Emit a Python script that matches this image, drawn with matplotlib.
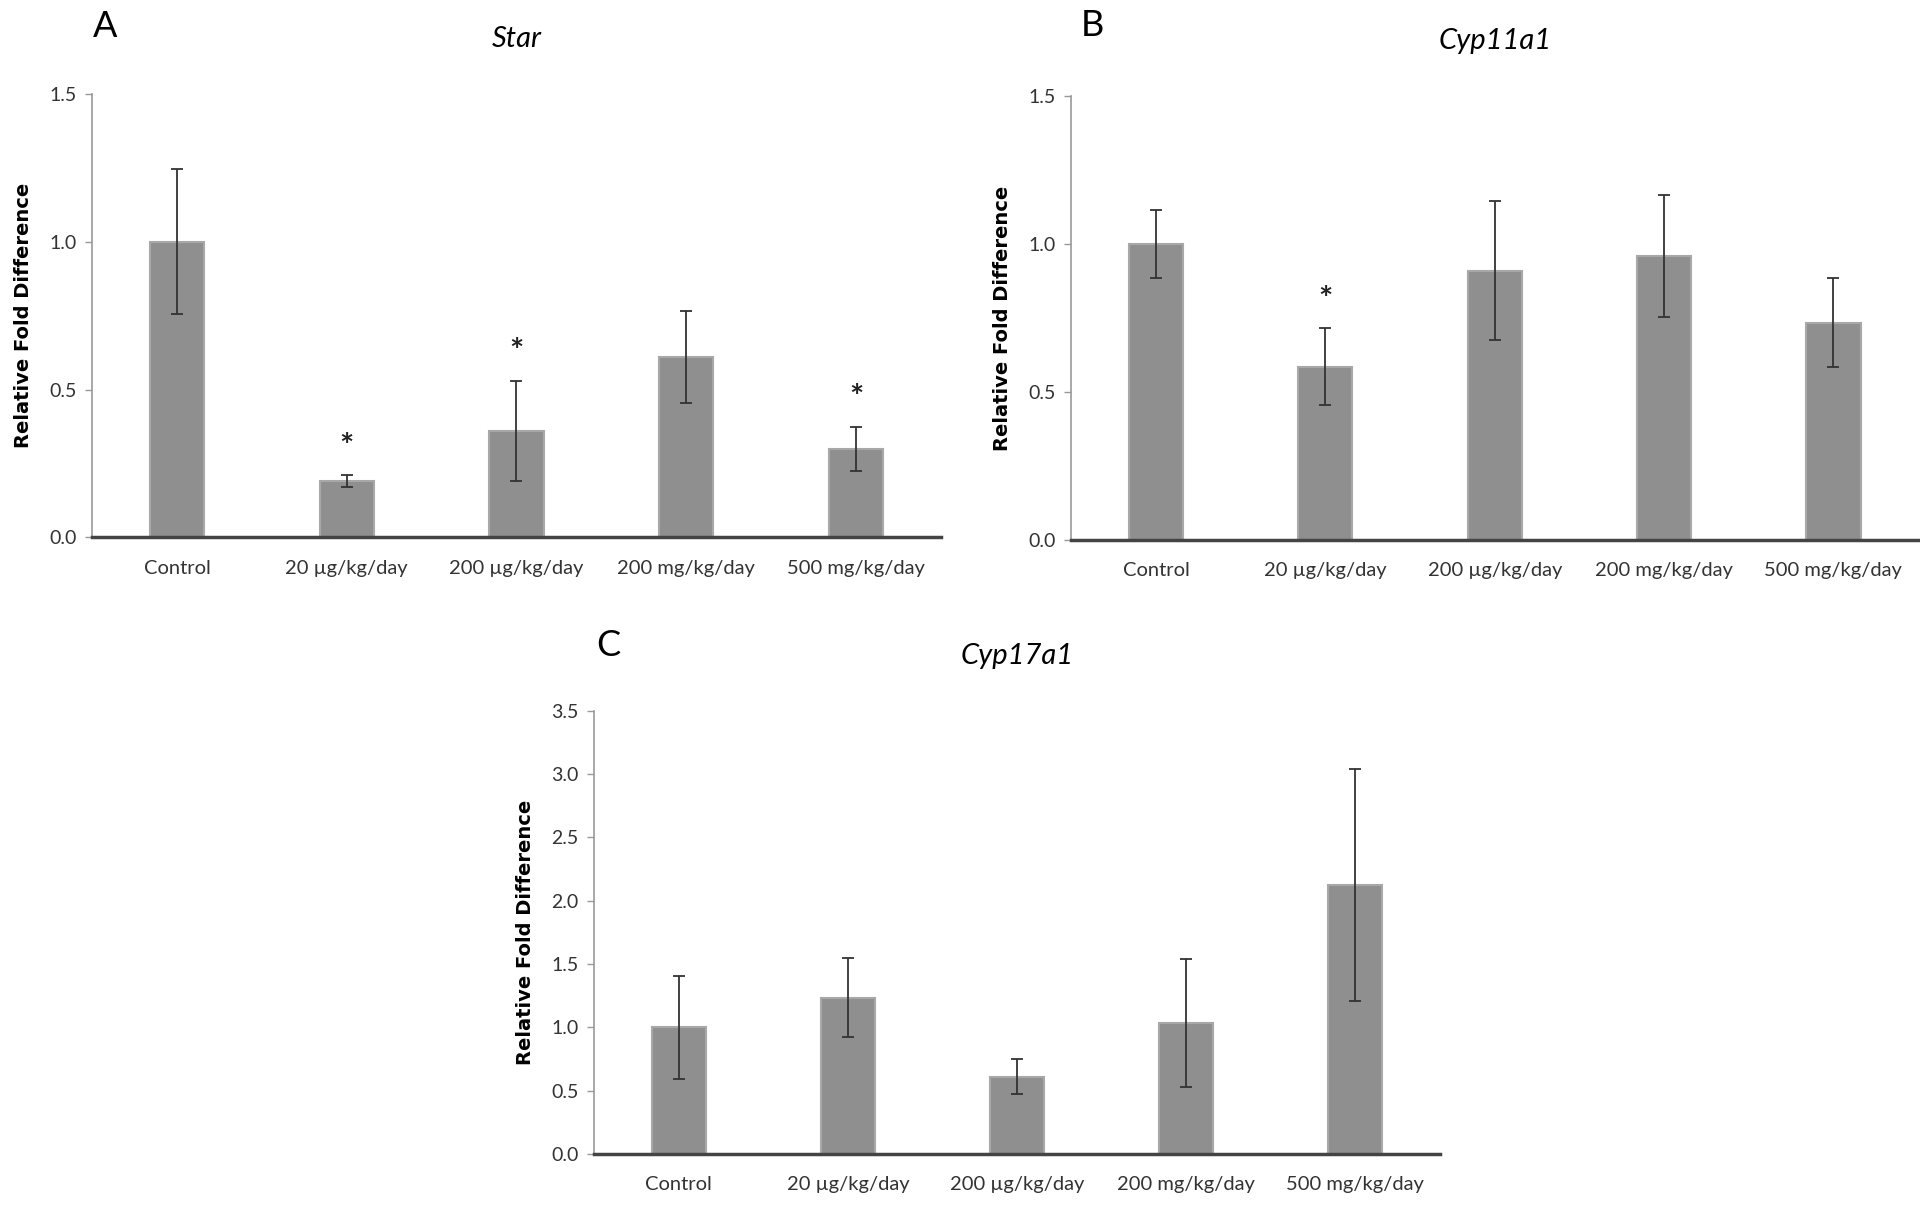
import matplotlib.pyplot as plt

# dose groups shown on every panel
groups = ['Control', '20 µg/kg/day', '200 µg/kg/day', '200 mg/kg/day', '500 mg/kg/day']

# Star
star_mean = [1.00, 0.19, 0.36, 0.61, 0.30]
star_err = [0.245, 0.02, 0.17, 0.155, 0.075]
star_sig = [False, True, True, False, True]

# Cyp11a1
cyp11_mean = [1.00, 0.585, 0.91, 0.96, 0.735]
cyp11_err = [0.115, 0.13, 0.235, 0.205, 0.15]
cyp11_sig = [False, True, False, False, False]

# Cyp17a1
cyp17_mean = [1.00, 1.235, 0.61, 1.035, 2.125]
cyp17_err = [0.405, 0.31, 0.14, 0.505, 0.915]
cyp17_sig = [False, False, False, False, False]

plt.rcParams['font.family'] = ['Lato', 'DejaVu Sans']

BAR = '#8f8f8f'


def draw_panel(ax, title, means, errs, sig, ymax, step):
    x = range(len(groups))
    ax.bar(x, means, width=0.32, color=BAR, edgecolor='#a8a8a8', linewidth=1.5, zorder=2)
    ax.errorbar(x, means, yerr=errs, fmt='none', ecolor='#333333',
                elinewidth=1.3, capsize=4, capthick=1.3, zorder=3)
    for i, s in enumerate(sig):
        if s:
            ax.text(i, means[i] + errs[i] + 0.03 * ymax, '*', ha='center', va='bottom',
                    fontsize=24, fontweight='bold', color='#222222')
    ax.set_xlim(-0.5, len(groups) - 0.5)
    ax.set_ylim(0, ymax)
    ticks = [round(step * k, 1) for k in range(int(round(ymax / step)) + 1)]
    ax.set_yticks(ticks)
    ax.set_yticklabels([f'{t:.1f}' for t in ticks], fontsize=14, color='#333333')
    ax.set_xticks(list(x))
    ax.set_xticklabels(groups, fontsize=14.5, color='#333333')
    ax.tick_params(axis='x', length=0, pad=16)
    ax.tick_params(axis='y', length=5, width=1, color='#999999', pad=6)
    for side in ['top', 'right']:
        ax.spines[side].set_visible(False)
    ax.spines['left'].set_color('#999999')
    ax.spines['left'].set_linewidth(1.2)
    ax.spines['bottom'].set_color('#444444')
    ax.spines['bottom'].set_linewidth(2.5)
    ax.set_ylabel('Relative Fold Difference', fontsize=14, fontweight='bold',
                  family=['DejaVu Sans'], labelpad=12)
    ax.set_title(title, fontsize=21, style='italic', pad=34)


fig = plt.figure(figsize=(19.2, 12.05), dpi=100)

axA = fig.add_axes([0.048, 0.554, 0.442, 0.368])
draw_panel(axA, 'Star', star_mean, star_err, star_sig, 1.5, 0.5)

axB = fig.add_axes([0.558, 0.552, 0.441, 0.368])
draw_panel(axB, 'Cyp11a1', cyp11_mean, cyp11_err, cyp11_sig, 1.5, 0.5)

axC = fig.add_axes([0.3094, 0.0425, 0.4406, 0.3675])
draw_panel(axC, 'Cyp17a1', cyp17_mean, cyp17_err, cyp17_sig, 3.5, 0.5)

fig.text(0.055, 0.978, 'A', fontsize=26, va='center', ha='center')
fig.text(0.569, 0.979, 'B', fontsize=26, va='center', ha='center')
fig.text(0.317, 0.464, 'C', fontsize=26, va='center', ha='center')

fig.savefig('out.png', dpi=100, facecolor='white')
